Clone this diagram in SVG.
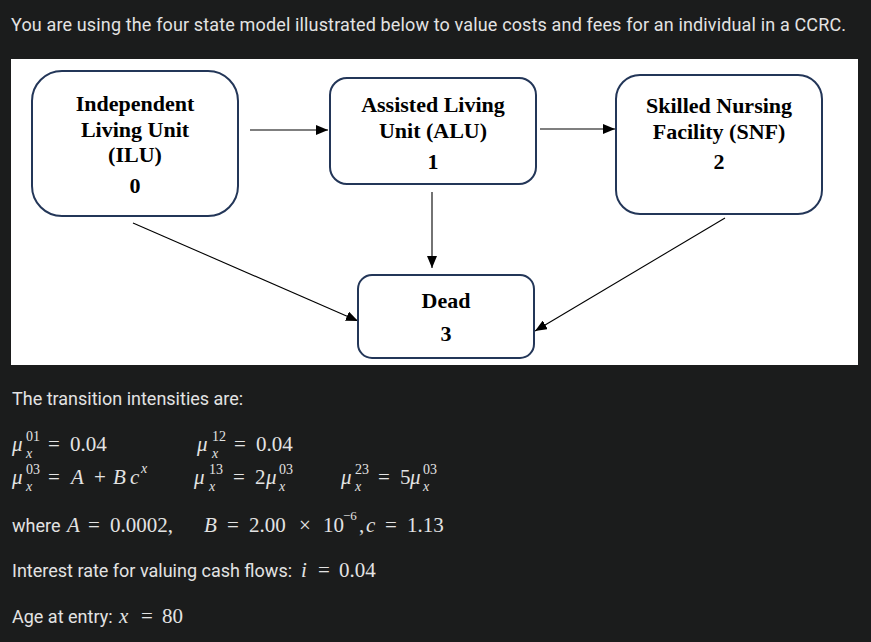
<svg xmlns="http://www.w3.org/2000/svg" width="871" height="642" viewBox="0 0 871 642">
<defs>
<style>
.ui{font-family:Roboto,"Liberation Sans",sans-serif;font-size:18px;fill:#e3e3e3}
.m{font-family:"Liberation Serif","DejaVu Serif",serif;font-size:21px;fill:#e3e3e3}
.mi{font-family:"Liberation Serif","DejaVu Serif",serif;font-size:21px;fill:#e3e3e3;font-style:italic}
.s{font-family:"Liberation Serif","DejaVu Serif",serif;font-size:14px;fill:#e3e3e3}
.si{font-family:"Liberation Serif","DejaVu Serif",serif;font-size:14px;fill:#e3e3e3;font-style:italic}
.box{fill:#ffffff;stroke:#233658;stroke-width:2}
.lbl{font-family:"Liberation Serif","Times New Roman",serif;font-size:22px;font-weight:bold;fill:#000;text-anchor:middle}
.edge{stroke:#000;stroke-width:1.1;fill:none;marker-end:url(#ah)}
</style>
<marker id="ah" viewBox="0 0 12 10" refX="12" refY="5" markerWidth="12" markerHeight="10" markerUnits="userSpaceOnUse" orient="auto">
<path d="M0,0 L12,5 L0,10 Z" fill="#000"/>
</marker>
</defs>
<rect x="0" y="0" width="871" height="642" fill="#1b1c1c"/>
<text class="ui" x="11" y="31" textLength="835">You are using the four state model illustrated below to value costs and fees for an individual in a CCRC.</text>
<rect x="11" y="59" width="847" height="306" fill="#ffffff"/>

<g id="connectors">
<line class="edge" x1="250" y1="130" x2="328" y2="130"/>
<line class="edge" x1="540" y1="129" x2="615" y2="129"/>
<line class="edge" x1="432" y1="192" x2="432" y2="268"/>
<line class="edge" x1="133" y1="223" x2="358" y2="321"/>
<line class="edge" x1="725" y1="218" x2="535" y2="331"/>
</g>

<g id="node-ilu">
<rect class="box" x="32" y="71" width="206" height="145" rx="30"/>
<text class="lbl" x="135" y="111">Independent</text>
<text class="lbl" x="135" y="137">Living Unit</text>
<text class="lbl" x="135" y="162">(ILU)</text>
<text class="lbl" x="135" y="193">0</text>
</g>
<g id="node-alu">
<rect class="box" x="330" y="78" width="206" height="106" rx="17"/>
<text class="lbl" x="433" y="112">Assisted Living</text>
<text class="lbl" x="433" y="138">Unit (ALU)</text>
<text class="lbl" x="433" y="169">1</text>
</g>
<g id="node-snf">
<rect class="box" x="616" y="75" width="206" height="139" rx="24"/>
<text class="lbl" x="719" y="113">Skilled Nursing</text>
<text class="lbl" x="719" y="139">Facility (SNF)</text>
<text class="lbl" x="719" y="169">2</text>
</g>
<g id="node-dead">
<rect class="box" x="358" y="275" width="176" height="83" rx="14"/>
<text class="lbl" x="446" y="308">Dead</text>
<text class="lbl" x="446" y="341">3</text>
</g>

<text class="ui" x="12" y="405">The transition intensities are:</text>

<!-- row 1 -->
<text class="mi" x="12" y="451">μ</text><text class="s" x="26" y="441">01</text><text class="si" x="26" y="458">x</text>
<text class="m" x="48" y="451">=</text><text class="m" x="70" y="451">0.04</text>
<text class="mi" x="197" y="451">μ</text><text class="s" x="212" y="441">12</text><text class="si" x="212" y="458">x</text>
<text class="m" x="234" y="451">=</text><text class="m" x="256" y="451">0.04</text>

<!-- row 2 -->
<text class="mi" x="12" y="484">μ</text><text class="s" x="26" y="474">03</text><text class="si" x="26" y="491">x</text>
<text class="m" x="48" y="484">=</text><text class="mi" x="71" y="484">A</text><text class="m" x="94" y="484">+</text><text class="mi" x="113" y="484">B</text><text class="mi" x="130" y="484">c</text><text class="si" x="141" y="473">x</text>
<text class="mi" x="194" y="484">μ</text><text class="s" x="209" y="474">13</text><text class="si" x="209" y="491">x</text>
<text class="m" x="233" y="484">=</text><text class="m" x="255" y="484">2</text><text class="mi" x="266" y="484">μ</text><text class="s" x="279" y="474">03</text><text class="si" x="279" y="491">x</text>
<text class="mi" x="341" y="484">μ</text><text class="s" x="355" y="474">23</text><text class="si" x="355" y="491">x</text>
<text class="m" x="378" y="484">=</text><text class="m" x="400" y="484">5</text><text class="mi" x="410" y="484">μ</text><text class="s" x="423" y="474">03</text><text class="si" x="423" y="491">x</text>

<!-- constants -->
<text class="ui" x="12" y="532">where</text>
<text class="mi" x="67" y="532">A</text><text class="m" x="88" y="532">=</text><text class="m" x="110" y="532">0.0002,</text>
<text class="mi" x="204" y="532">B</text><text class="m" x="227" y="532">=</text><text class="m" x="249" y="532">2.00</text><text class="m" x="299" y="532">×</text><text class="m" x="323" y="532">10</text><text class="s" x="343" y="520" style="font-size:13px">−6</text><text class="m" x="359" y="532">,</text>
<text class="mi" x="366" y="532">c</text><text class="m" x="385" y="532">=</text><text class="m" x="407" y="532">1.13</text>

<text class="ui" x="12" y="577">Interest rate for valuing cash flows:</text>
<text class="mi" x="301" y="577">i</text><text class="m" x="318" y="577">=</text><text class="m" x="339" y="577">0.04</text>

<text class="ui" x="12" y="623">Age at entry:</text>
<text class="mi" x="119" y="623">x</text><text class="m" x="141" y="623">=</text><text class="m" x="162" y="623">80</text>
</svg>
